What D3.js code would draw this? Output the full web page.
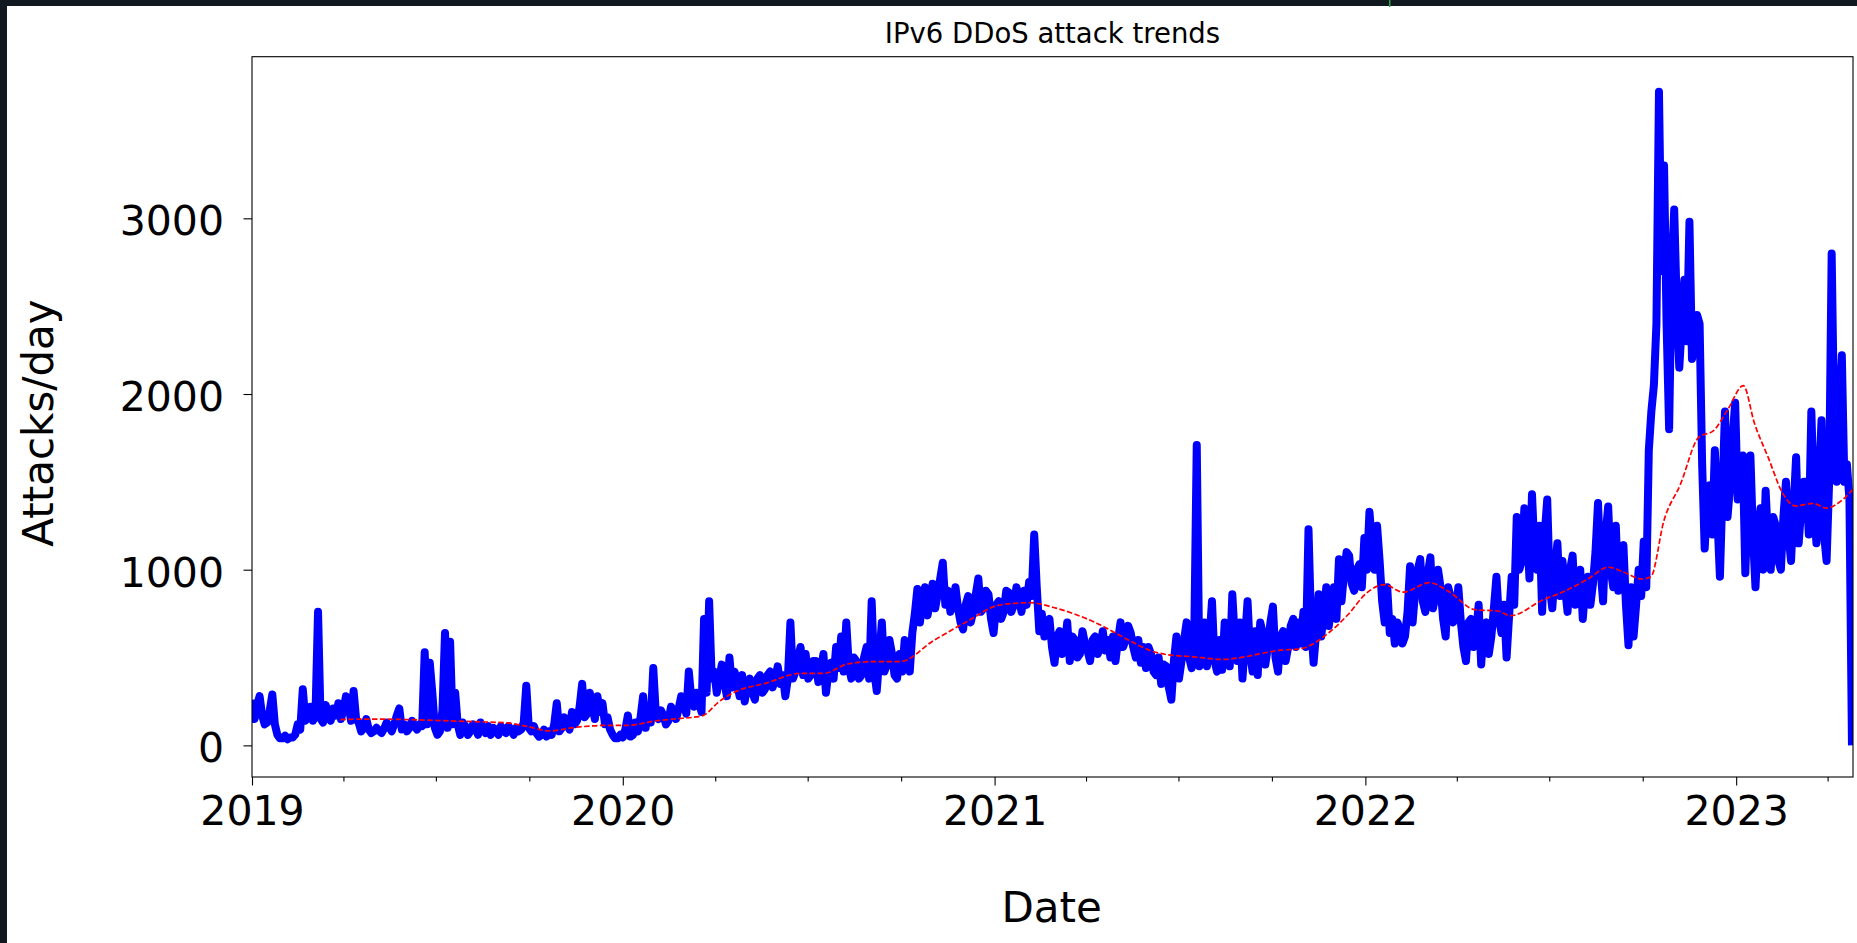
<!DOCTYPE html>
<html>
<head>
<meta charset="utf-8">
<script src="https://cdn.jsdelivr.net/npm/d3@7"></script>
<style>
  html, body { margin: 0; padding: 0; background: #ffffff; }
  svg { display: block; }
</style>
</head>
<body>
<div id="chart"></div>
<script>
const WIDTH = 1857;
const HEIGHT = 943;
const MARGIN = { top: 56.7, right: 4, bottom: 166, left: 252 };

const TITLE = "IPv6 DDoS attack trends";
const X_LABEL = "Date";
const Y_LABEL = "Attacks/day";

// daily attack counts, every 5 days from 2019-01-01
const SERIES_START = "2019-01-01";
const STEP_DAYS = 5;
const attackValues = [
  260, 230, 170, 130, 290, 60, 40, 35, 45, 120,
  320, 160, 140, 760, 130, 180, 210, 240, 200, 230,
  310, 130, 100, 90, 80, 85, 95, 110, 120, 210,
  120, 100, 110, 120, 530, 470, 100, 80, 640, 590,
  300, 60, 110, 80, 100, 130, 70, 60, 90, 110,
  70, 90, 100, 90, 340, 80, 70, 60, 50, 60,
  240, 100, 120, 190, 140, 350, 180, 230, 280, 240,
  160, 60, 40, 45, 170, 60, 80, 280, 200, 440,
  150, 170, 140, 200, 210, 230, 420, 220, 240, 720,
  820, 420, 380, 360, 500, 420, 280, 250, 380, 260,
  400, 320, 420, 380, 350, 280, 700, 420, 560, 520,
  400, 480, 430, 300, 470, 560, 620, 700, 380, 480,
  400, 560, 820, 310, 700, 460, 520, 380, 420, 560,
  640, 890, 820, 740, 920, 860, 1040, 880, 820, 780,
  660, 850, 760, 950, 780, 860, 640, 820, 760, 870,
  800, 840, 880, 930, 1200, 650, 620, 720, 470, 650,
  560, 480, 600, 520, 580, 480, 620, 560, 540, 500,
  480, 700, 600, 640, 500, 470, 440, 520, 400, 350,
  450, 260, 620, 480, 700, 440, 1710, 520, 450, 820,
  420, 430, 620, 860, 480, 380, 820, 420, 400, 640,
  560, 790, 420, 650, 560, 720, 700, 760, 1230, 470,
  860, 750, 680, 900, 1060, 980, 1080, 880, 1030, 1180,
  1330, 1000, 1050, 700, 640, 580, 660, 620, 1020, 880,
  1060, 760, 1070, 850, 900, 620, 840, 760, 700, 480,
  720, 640, 460, 700, 620, 960, 640, 500, 960, 1300,
  1050, 1260, 1430, 1000, 760, 1400, 780, 1150, 1050, 760,
  1080, 880, 720, 960, 920, 1380, 820, 1360, 900, 880,
  1140, 570, 620, 1000, 1160, 1680, 2050, 3720, 3300, 1800,
  3050, 2150, 2650, 2980, 2300, 2400, 1120, 1480, 1680, 960,
  1900, 1480, 1950, 1500, 980, 1650, 900, 1350, 1450, 1000,
  1250, 1000, 1500, 1050, 1640, 1350, 1500, 1900, 1150, 1850,
  1050, 2800, 1500, 2220, 1600, 0
];

// the other edge of the daily jitter band, read half-way between the samples above
const attackBandValues = [
  150, 280, 120, 200, 120, 40, 55, 45, 60, 90,
  140, 220, 180, 150, 230, 140, 170, 150, 280, 140,
  150, 80, 150, 70, 100, 70, 130, 80, 170, 90,
  80, 140, 90, 110, 120, 300, 60, 200, 100, 120,
  120, 130, 60, 120, 60, 90, 110, 100, 60, 80,
  110, 60, 80, 130, 100, 110, 50, 90, 80, 120,
  80, 160, 90, 120, 220, 160, 300, 150, 190, 120,
  90, 40, 60, 90, 50, 130, 160, 100, 130, 180,
  200, 120, 220, 150, 280, 180, 260, 300, 190, 300,
  380, 300, 460, 280, 330, 350, 400, 340, 300, 380,
  300, 400, 330, 450, 400, 380, 380, 500, 400, 380,
  480, 360, 520, 420, 380, 440, 420, 450, 500, 380,
  500, 380, 420, 500, 420, 600, 400, 520, 600, 420,
  750, 700, 900, 820, 780, 950, 800, 760, 900, 700,
  800, 700, 860, 760, 880, 720, 800, 720, 880, 760,
  900, 760, 800, 850, 900, 750, 700, 560, 620, 520,
  700, 620, 500, 650, 540, 600, 520, 650, 600, 620,
  600, 560, 680, 560, 600, 560, 560, 420, 500, 460,
  330, 480, 380, 600, 500, 600, 450, 700, 600, 480,
  600, 700, 450, 600, 700, 600, 520, 650, 700, 460,
  700, 500, 620, 480, 680, 560, 580, 560, 700, 640,
  620, 900, 800, 720, 820, 1100, 920, 1000, 900, 1000,
  1150, 1250, 820, 900, 720, 700, 580, 760, 700, 1000,
  820, 980, 780, 1000, 720, 900, 700, 900, 560, 700,
  560, 800, 680, 520, 780, 720, 800, 740, 800, 1000,
  1350, 950, 1100, 1250, 1200, 900, 1000, 850, 900, 1000,
  800, 1000, 900, 800, 1100, 1000, 1200, 1000, 1250, 1100,
  800, 900, 800, 850, 900, 1900, 2400, 2700, 2400, 2700,
  2500, 2400, 2300, 2200, 2450, 1600, 1400, 1200, 1300, 1450,
  1300, 1750, 1400, 1650, 1400, 1200, 1200, 1000, 1150, 1300,
  1050, 1300, 1200, 1350, 1150, 1500, 1200, 1400, 1500, 1200,
  1500, 1800, 1900, 1500, 1400
];

// smoothed trend (red dashed)
const trendDates = [
  "2019-03-29", "2019-05-01", "2019-07-05", "2019-08-07", "2019-09-09", "2019-09-28",
  "2019-10-21", "2019-11-13", "2019-12-16", "2020-01-05", "2020-02-03", "2020-02-20",
  "2020-03-19", "2020-04-05", "2020-04-19", "2020-05-22", "2020-06-24", "2020-07-17",
  "2020-08-09", "2020-09-04", "2020-09-30", "2020-11-02", "2020-12-05", "2021-01-06",
  "2021-02-05", "2021-02-28", "2021-04-08", "2021-05-18", "2021-06-03", "2021-06-19",
  "2021-07-16", "2021-08-13", "2021-10-14", "2021-10-27", "2021-11-28", "2021-12-15",
  "2022-01-02", "2022-01-20", "2022-02-07", "2022-03-05", "2022-03-23", "2022-04-19",
  "2022-05-11", "2022-05-24", "2022-06-24", "2022-07-17", "2022-08-08", "2022-08-28",
  "2022-09-12", "2022-09-30", "2022-10-09", "2022-10-22", "2022-11-07", "2022-11-25",
  "2022-12-10", "2022-12-24", "2023-01-08", "2023-01-19", "2023-02-02", "2023-02-15",
  "2023-02-28", "2023-03-18", "2023-03-31", "2023-04-14", "2023-04-26"
];
const trendValues = [
  147, 150, 141, 135, 128, 109,
  82, 101, 114, 114, 140, 150,
  168, 250, 300, 356, 410, 410,
  463, 477, 477, 597, 705, 799,
  812, 785, 705, 584, 540, 517,
  504, 490, 544, 548, 651, 745,
  866, 915, 872, 926, 880, 772,
  765, 738, 826, 880, 947, 1014,
  987, 947, 960, 1282, 1484, 1753,
  1793, 1914, 2048, 1833, 1632, 1444,
  1363, 1377, 1350, 1390, 1458
];

const X_DOMAIN = ["2019-01-01", "2023-04-26"];
const Y_DOMAIN = [-180, 3920];
const yTicks = [0, 1000, 2000, 3000];
const yearTicks = ["2019-01-01", "2020-01-01", "2021-01-01", "2022-01-01", "2023-01-01"];

const parse = d3.utcParse("%Y-%m-%d");
const start = parse(SERIES_START);

// interleave the samples with the band values that sit between them
const attacks = [];
attackValues.forEach((v, i) => {
    attacks.push({ date: d3.utcHour.offset(start, i * STEP_DAYS * 24), value: v });
    if (i < attackBandValues.length) {
        attacks.push({ date: d3.utcHour.offset(start, (i * STEP_DAYS + STEP_DAYS / 2) * 24), value: attackBandValues[i] });
    }
});
const trend = trendDates.map((d, i) => ({ date: parse(d), value: trendValues[i] }));

const x = d3.scaleUtc()
    .domain(X_DOMAIN.map(parse))
    .range([MARGIN.left, WIDTH - MARGIN.right]);

const y = d3.scaleLinear()
    .domain(Y_DOMAIN)
    .range([HEIGHT - MARGIN.bottom, MARGIN.top]);

const svg = d3.select("#chart").append("svg")
    .attr("width", WIDTH)
    .attr("height", HEIGHT)
    .style("font-family", "'DejaVu Sans', sans-serif");

svg.append("rect")
    .attr("width", WIDTH)
    .attr("height", HEIGHT)
    .attr("fill", "#ffffff");

// dark window edges of the screenshot
svg.append("rect").attr("x", 0).attr("y", 0).attr("width", WIDTH).attr("height", 6).attr("fill", "#111820");
svg.append("rect").attr("x", 0).attr("y", 0).attr("width", 7).attr("height", HEIGHT).attr("fill", "#111820");
svg.append("rect").attr("x", 1389).attr("y", 0).attr("width", 1.5).attr("height", 7).attr("fill", "#2ea043");

svg.append("defs").append("clipPath")
    .attr("id", "plot-clip")
    .append("rect")
    .attr("x", MARGIN.left)
    .attr("y", MARGIN.top)
    .attr("width", WIDTH - MARGIN.left - MARGIN.right)
    .attr("height", HEIGHT - MARGIN.top - MARGIN.bottom);

const line = d3.line()
    .x(d => x(d.date))
    .y(d => y(d.value));

const plot = svg.append("g").attr("clip-path", "url(#plot-clip)");

plot.append("path")
    .datum(attacks)
    .attr("fill", "none")
    .attr("stroke", "#0000ff")
    .attr("stroke-width", 8)
    .attr("stroke-linejoin", "round")
    .attr("stroke-linecap", "butt")
    .attr("d", line);

plot.append("path")
    .datum(trend)
    .attr("fill", "none")
    .attr("stroke", "#ff0000")
    .attr("stroke-width", 1.7)
    .attr("stroke-dasharray", "5.5,2.4")
    .attr("d", line.curve(d3.curveMonotoneX));

// minor quarterly ticks
const quarters = d3.utcMonth.range(parse("2019-01-01"), parse("2023-04-27"), 3)
    .filter(d => d.getUTCMonth() !== 0);

svg.append("g")
    .attr("transform", `translate(0,${HEIGHT - MARGIN.bottom})`)
    .call(d3.axisBottom(x).tickValues(quarters).tickSize(4.5).tickFormat(""))
    .call(g => g.select(".domain").remove())
    .call(g => g.selectAll("line").attr("stroke", "#000").attr("stroke-width", 1.1));

const xAxis = svg.append("g")
    .attr("transform", `translate(0,${HEIGHT - MARGIN.bottom})`)
    .call(d3.axisBottom(x)
        .tickValues(yearTicks.map(parse))
        .tickSize(8.5)
        .tickPadding(10.5)
        .tickFormat(d3.utcFormat("%Y")));
xAxis.select(".domain").remove();
xAxis.selectAll("line").attr("stroke", "#000").attr("stroke-width", 1.1);
xAxis.selectAll("text")
    .attr("fill", "#000")
    .style("font-size", "41px")
    .style("font-family", "'DejaVu Sans', sans-serif");

const yAxis = svg.append("g")
    .attr("transform", `translate(${MARGIN.left},0)`)
    .call(d3.axisLeft(y)
        .tickValues(yTicks)
        .tickSize(8.5)
        .tickPadding(19.5)
        .tickFormat(d3.format("d")));
yAxis.select(".domain").remove();
yAxis.selectAll("line").attr("stroke", "#000").attr("stroke-width", 1.1);
yAxis.selectAll("text")
    .attr("fill", "#000")
    .attr("dy", "0.4em")
    .style("font-size", "41px")
    .style("font-family", "'DejaVu Sans', sans-serif");

// axes frame
svg.append("rect")
    .attr("x", MARGIN.left)
    .attr("y", MARGIN.top)
    .attr("width", WIDTH - MARGIN.left - MARGIN.right)
    .attr("height", HEIGHT - MARGIN.top - MARGIN.bottom)
    .attr("fill", "none")
    .attr("stroke", "#000")
    .attr("stroke-width", 1.1);

svg.append("text")
    .attr("x", (MARGIN.left + WIDTH - MARGIN.right) / 2)
    .attr("y", 43.3)
    .attr("text-anchor", "middle")
    .style("font-size", "27.5px")
    .text(TITLE);

svg.append("text")
    .attr("x", 1051.7)
    .attr("y", 921.7)
    .attr("text-anchor", "middle")
    .style("font-size", "42px")
    .text(X_LABEL);

svg.append("text")
    .attr("transform", "translate(53.3,423) rotate(-90)")
    .attr("text-anchor", "middle")
    .style("font-size", "42px")
    .text(Y_LABEL);
</script>
</body>
</html>
